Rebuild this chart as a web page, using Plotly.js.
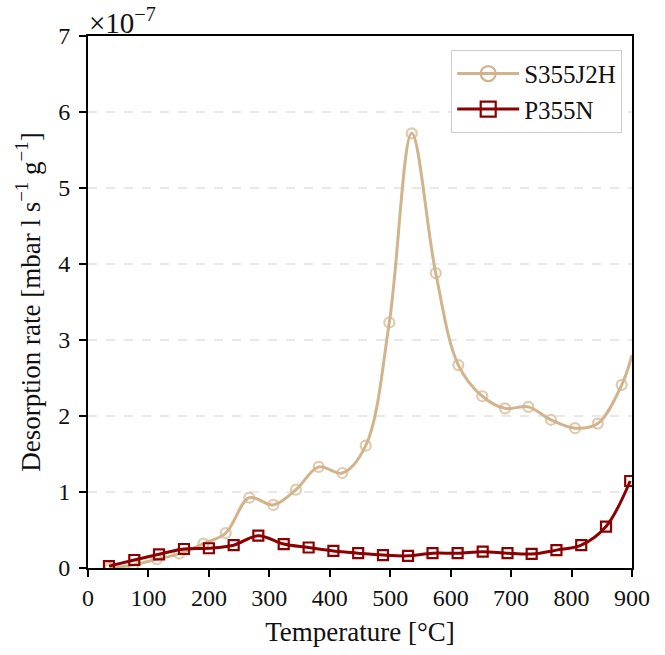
<!DOCTYPE html>
<html>
<head>
<meta charset="utf-8">
<script src="https://cdn.plot.ly/plotly-3.0.1.min.js"></script>
<style>
  html, body { margin: 0; padding: 0; background: #ffffff; }
  #chart { width: 665px; height: 655px; }
</style>
</head>
<body>
<div id="chart"></div>
<script>
// Values in units of 1e-7 mbar l s^-1 g^-1
const temperatureS355 = [36.5, 75, 113.7, 151, 190.8, 227.8, 266.9, 306.6, 344, 381.7, 420.7, 459.5, 498.5, 535.6, 575.3, 612.7, 652.4, 690, 728.5, 766, 805.8, 843.3, 883, 900];
const rateS355 = [0.0, 0.04, 0.115, 0.19, 0.32, 0.46, 0.925, 0.83, 1.03, 1.33, 1.25, 1.61, 3.23, 5.72, 3.88, 2.67, 2.26, 2.10, 2.12, 1.95, 1.84, 1.90, 2.41, 2.80];
const temperatureP355 = [34.7, 76.6, 117.5, 158.8, 200, 241, 281.8, 323.8, 365, 406, 447, 488, 529.5, 570, 611.5, 653, 694, 734, 775, 816, 857, 897];
const rateP355 = [0.025, 0.105, 0.18, 0.25, 0.26, 0.30, 0.425, 0.315, 0.27, 0.225, 0.195, 0.17, 0.16, 0.195, 0.195, 0.215, 0.195, 0.185, 0.235, 0.30, 0.545, 1.145];
const seriesNames = ['S355J2H', 'P355N'];
const xTicks = [0, 100, 200, 300, 400, 500, 600, 700, 800, 900];
const yTicks = [0, 1, 2, 3, 4, 5, 6, 7];

const TAN = '#D2B48C';
const DARKRED = '#8B0000';
const FONT = 'Liberation Serif, Times New Roman, serif';

// S355J2H: markers on every sample except the final line end point
const s355MarkerSizes = temperatureS355.map((t, i) => i === temperatureS355.length - 1 ? 0 : 10);

const traces = [
  {
    x: temperatureS355, y: rateS355, name: seriesNames[0],
    type: 'scatter', mode: 'lines+markers', showlegend: false, legendgroup: 's',
    line: {color: TAN, width: 3, shape: 'spline', smoothing: 1},
    marker: {symbol: 'circle-open', size: s355MarkerSizes, color: TAN, line: {color: TAN, width: 2.2}},
    hoverinfo: 'skip'
  },
  {
    x: temperatureP355, y: rateP355, name: seriesNames[1],
    type: 'scatter', mode: 'lines+markers', showlegend: false, legendgroup: 'p',
    line: {color: DARKRED, width: 3, shape: 'spline', smoothing: 1},
    marker: {symbol: 'square-open', size: 10, color: DARKRED, line: {color: DARKRED, width: 2.2}},
    hoverinfo: 'skip'
  },
  // legend entries
  {
    x: [null], y: [null], name: seriesNames[0], type: 'scatter', mode: 'lines+markers', legendgroup: 's',
    line: {color: TAN, width: 3},
    marker: {symbol: 'circle-open', size: 15, color: TAN, line: {color: TAN, width: 2.2}}
  },
  {
    x: [null], y: [null], name: seriesNames[1], type: 'scatter', mode: 'lines+markers', legendgroup: 'p',
    line: {color: DARKRED, width: 3},
    marker: {symbol: 'square-open', size: 15, color: DARKRED, line: {color: DARKRED, width: 2.2}}
  }
];

const layout = {
  width: 665, height: 655,
  margin: {l: 88, r: 33, t: 36, b: 87, pad: 0},
  paper_bgcolor: '#ffffff', plot_bgcolor: '#ffffff',
  font: {family: FONT, size: 24, color: '#111111'},
  showlegend: true,
  legend: {
    x: 0.982, y: 0.974, xanchor: 'right', yanchor: 'top',
    bgcolor: '#ffffff', bordercolor: '#cccccc', borderwidth: 1,
    font: {family: FONT, size: 25, color: '#111111'},
    itemwidth: 62, tracegroupgap: 0
  },
  xaxis: {
    range: [0, 900], tickvals: xTicks, ticktext: xTicks.map(String),
    showgrid: false, zeroline: false,
    showline: true, linecolor: '#000000', linewidth: 2, mirror: true,
    ticks: 'outside', ticklen: 7, tickwidth: 2, tickcolor: '#000000',
    tickfont: {family: FONT, size: 24, color: '#111111'},
    title: {text: 'Temperature [°C]', font: {family: FONT, size: 27, color: '#111111'}, standoff: 12}
  },
  yaxis: {
    range: [0, 7], tickvals: yTicks, ticktext: yTicks.map(String),
    showgrid: true, gridcolor: '#e8e8e8', gridwidth: 1.5, griddash: 'dash',
    zeroline: false,
    showline: true, linecolor: '#000000', linewidth: 2, mirror: true,
    ticks: 'outside', ticklen: 7, tickwidth: 2, tickcolor: '#000000',
    tickfont: {family: FONT, size: 24, color: '#111111'},
    ticklabelstandoff: 4,
    title: {text: 'Desorption rate [mbar l s<sup>−1</sup> g<sup>−1</sup>]', font: {family: FONT, size: 27, color: '#111111'}, standoff: 10}
  },
  annotations: [{
    xref: 'paper', yref: 'paper', x: 0, y: 1, xanchor: 'left', yanchor: 'bottom',
    text: '×10<sup>−7</sup>', showarrow: false,
    font: {family: FONT, size: 29, color: '#111111'}, xshift: -1, yshift: -5
  }]
};

Plotly.newPlot('chart', traces, layout, {staticPlot: true, displayModeBar: false});
</script>
</body>
</html>
